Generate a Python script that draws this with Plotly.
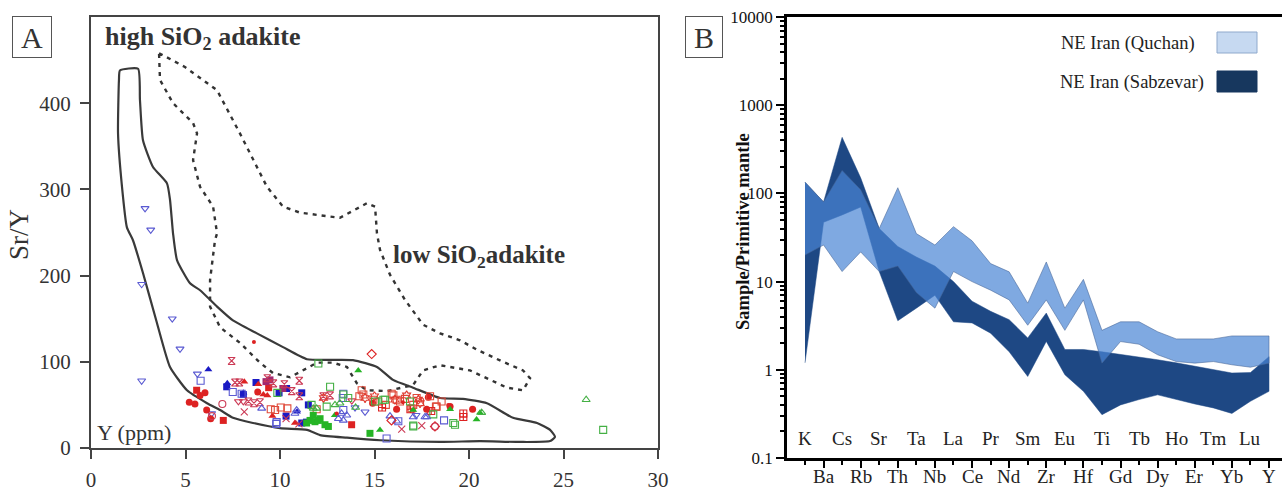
import plotly.graph_objects as go

W, H = 1282, 493
def px(x): return x / W
def py(y): return 1 - y / H

FONT = "Liberation Serif, Times New Roman, serif"

# ---------------- Panel A data (Y ppm vs Sr/Y) ----------------
adakite_x = [1.53, 2.49, 2.59, 2.75, 3.28, 4.02, 4.18, 4.34, 4.55, 5.24, 5.77, 6.67, 7.51, 8.78, 10.16,
             11.43, 13.86, 15.13, 15.98, 17.04, 18.47, 19.68, 20.95, 22.33, 23.60, 24.29, 24.55, 24.29,
             22.70, 20.58, 18.47, 15.29, 13.54, 12.12, 11.43, 10.00, 8.57, 7.51, 6.83, 6.14, 5.08, 4.18,
             3.49, 2.75, 2.22, 1.90, 1.64, 1.43, 1.48, 1.53]
adakite_y = [438, 440, 404, 357, 326, 307, 288, 249, 218, 191, 183, 164, 148, 133, 117,
             103, 102, 94, 79, 70, 58, 57, 52, 35, 29, 21, 13, 8,
             7, 8, 7, 9, 12, 15, 21, 23, 29, 35, 44, 52, 67, 94,
             145, 203, 241, 256, 303, 365, 427, 438]

highsi_x = [3.60, 4.97, 6.67, 7.88, 9.31, 10.16, 11.06, 12.65, 13.17, 14.60, 15.03, 15.13, 15.29, 15.82,
            16.61, 17.57, 18.47, 19.52, 20.42, 21.80, 22.86, 23.23, 22.86, 22.01, 21.11, 20.05, 18.47,
            17.57, 17.04, 15.66, 14.60, 14.07, 13.54, 12.80, 11.96, 11.06, 10.53, 9.63, 8.94, 7.88,
            6.83, 6.30, 6.30, 6.56, 6.67, 6.46, 5.77, 5.40, 5.61, 5.40, 4.34, 3.65, 3.60]
highsi_y = [458, 442, 415, 365, 303, 280, 273, 268, 267, 284, 280, 249, 230, 201,
            172, 143, 133, 125, 114, 100, 90, 81, 67, 70, 79, 90, 96,
            90, 73, 66, 67, 75, 94, 99, 99, 88, 82, 87, 99, 122,
            140, 164, 195, 241, 249, 280, 303, 334, 365, 377, 400, 427, 458]

blue_tri_down_x = [2.86, 3.16, 2.68, 2.68, 4.30, 4.71, 5.63, 6.38, 13.97, 14.5, 17.2]
blue_tri_down_y = [278, 253, 190, 78, 150, 115, 86, 40, 47, 42, 38]
red_circle_x = [5.20, 5.50, 5.77, 6.03, 6.12, 6.33, 8.82, 16.17, 17.76, 17.85, 20.19, 14.9, 19.0]
red_circle_y = [53, 51, 61, 64, 44, 34, 65, 45, 45, 59, 45, 52, 48]
red_square_x = [5.59, 7.00, 13.79, 9.4]
red_square_y = [67, 32, 27, 70]
blue_tri_up_x = [6.21, 7.21, 8.06, 10.9]
blue_tri_up_y = [91, 75, 64, 42]
blue_square_x = [7.18, 8.73, 9.95, 10.35, 11.15, 11.15, 11.50, 10.32, 8.06, 11.4]
blue_square_y = [71, 76, 64, 69, 64, 29, 50, 37, 62, 30]
purple_square_x = [9.26, 9.47, 10.15]
purple_square_y = [77, 79, 69]
blue_sq_open_x = [5.80, 7.50, 7.97, 9.82, 13.35, 13.32, 16.26, 15.64, 18.68, 13.35, 9.8]
blue_sq_open_y = [78, 65, 63, 30, 63, 58, 31, 11, 32, 44, 28]
red_tri_up_x = [8.11, 8.85, 9.12, 9.33, 10.79, 9.6]
red_tri_up_y = [77, 74, 62, 61, 29, 37]
red_hourglass_x = [7.44, 7.62, 7.85, 8.33, 8.62, 8.94, 9.33, 9.65, 10.23, 10.62, 11.02, 11.02, 12.29, 12.65]
red_hourglass_y = [101, 76, 76, 54, 52, 53, 81, 75, 74, 66, 78, 60, 60, 61]
red_tri_down_x = [7.80, 8.06, 13.8]
red_tri_down_y = [54, 54, 55]
red_x_x = [8.11, 10.32, 16.44, 11.0, 17.5]
red_x_y = [42, 34, 22, 28, 26]
red_sq_open_x = [9.51, 9.74, 10.04, 10.39, 14.32, 14.41, 14.20, 14.94, 15.2, 15.91, 16.35, 16.61, 17.23,
                 17.41, 17.94, 18.25, 18.55, 16.0, 16.17, 16.96, 17.05, 18.29, 11.94, 15.6]
red_sq_open_y = [45, 44, 47, 46, 67, 62, 60, 56, 54, 63, 54, 57, 58,
                 53, 60, 48, 54, 61, 56, 46, 50, 48, 45, 50]
red_sq_cross_x = [19.70, 19.70, 16.9, 18.0, 15.4]
red_sq_cross_y = [36, 40, 45, 43, 47]
red_star_x = [14.50, 16.08, 16.7, 17.32, 17.41, 15.0, 12.3]
red_star_y = [58, 56, 61, 56, 52, 60, 58]
green_sq_open_x = [12.03, 12.65, 13.35, 13.61, 15.03, 15.56, 15.47, 17.05, 17.05, 18.11, 19.17, 19.26,
                   27.1, 9.86, 16.88, 11.67, 12.47]
green_sq_open_y = [98, 71, 62, 58, 54, 56, 56, 25, 26, 39, 29, 27, 21, 64, 54, 50, 48]
green_tri_x = [14.14, 17.05, 19.0, 20.58, 20.40, 15.29, 12.9]
green_tri_y = [90, 44, 45, 41, 33, 21, 38]
green_square_x = [11.59, 11.85, 12.12, 12.38, 12.56, 14.76, 11.76, 11.41, 12.03]
green_square_y = [32, 30.5, 34, 27, 25, 17, 38, 29, 32]
green_tri_open_x = [11.76, 11.94, 12.91, 13.17, 20.67, 26.2, 14.0]
green_tri_open_y = [46, 46, 50, 52, 41, 56, 47]
blue_tri_open_x = [9.03, 10.88, 10.79, 13.09, 13.35, 13.53, 13.26, 15.82, 17.05, 17.67, 17.76, 16.17]
blue_tri_open_y = [46, 44, 40, 34, 32, 38, 40, 37, 36, 36, 36, 31]
red_diamond_x = [14.85, 18.20, 15.9]
red_diamond_y = [109, 25, 32]
red_circ_open_x = [6.95, 6.4, 18.2]
red_circ_open_y = [51, 37, 25]
red_dot_x = [8.62, 13.0, 16.5, 18.9]
red_dot_y = [123, 40, 53, 50]

x_ticks_a = [0, 5, 10, 15, 20, 25, 30]
y_ticks_a = [0, 100, 200, 300, 400]

# ---------------- Panel B data (spider diagram) ----------------
elements = ["K", "Ba", "Cs", "Rb", "Sr", "Th", "Ta", "Nb", "La", "Ce", "Pr", "Nd", "Sm", "Zr", "Eu",
            "Hf", "Ti", "Gd", "Tb", "Dy", "Ho", "Er", "Tm", "Yb", "Lu", "Y"]
quchan_upper = [134, 80, 182, 110, 40, 116, 35, 26, 42, 29, 16, 12.9, 5.7, 16.7, 5.0, 10.6, 2.8, 3.5,
                3.5, 2.7, 2.24, 2.24, 2.24, 2.42, 2.42, 2.42]
quchan_lower = [20, 26, 13, 21.7, 13, 15, 7.5, 5, 13, 10, 8, 6.2, 3.2, 6.2, 2.8, 6.2, 1.19, 2.09,
                1.95, 1.48, 1.24, 1.19, 1.24, 1.14, 1.07, 1.19]
sabzevar_upper = [134, 80, 432, 150, 40, 25, 19, 15, 10, 6, 4.6, 3.7, 2.3, 4.4, 1.7, 1.7, 1.6, 1.5,
                  1.4, 1.3, 1.2, 1.1, 1.0, 0.92, 0.93, 1.41]
sabzevar_lower = [1.2, 47, 57, 70, 13, 3.6, 5, 7, 3.5, 3.4, 2.6, 1.6, 0.84, 2.1, 0.88, 0.57, 0.31,
                  0.40, 0.46, 0.52, 0.46, 0.41, 0.37, 0.32, 0.44, 0.57]
y_ticks_b = [0.1, 1, 10, 100, 1000, 10000]
y_ticktext_b = ["0.1", "1", "10", "100", "1000", "10000"]

fig = go.Figure()

# Panel A fields
fig.add_trace(go.Scatter(x=highsi_x, y=highsi_y, mode="lines",
                         line=dict(color="#333333", width=2.4, dash="4px,5px"),
                         xaxis="x", yaxis="y", showlegend=False, hoverinfo="skip"))
fig.add_trace(go.Scatter(x=adakite_x, y=adakite_y, mode="lines",
                         line=dict(color="#3a3a3a", width=2.2, shape="spline", smoothing=0.5),
                         xaxis="x", yaxis="y", showlegend=False, hoverinfo="skip"))

RED = "#dd2222"
BLUE = "#1a1ac4"
OBLUE = "#5a5ad2"
GREEN = "#25b425"
PINK = "#cc3a55"

series = [
    (blue_tri_down_x, blue_tri_down_y, "triangle-down-open", OBLUE),
    (red_circle_x, red_circle_y, "circle", RED),
    (red_square_x, red_square_y, "square", RED),
    (blue_tri_up_x, blue_tri_up_y, "triangle-up", BLUE),
    (blue_square_x, blue_square_y, "square", BLUE),
    (purple_square_x, purple_square_y, "square", "#a02870"),
    (blue_sq_open_x, blue_sq_open_y, "square-open", OBLUE),
    (red_tri_up_x, red_tri_up_y, "triangle-up", RED),
    (red_hourglass_x, red_hourglass_y, "hourglass-open", PINK),
    (red_tri_down_x, red_tri_down_y, "triangle-down-open", PINK),
    (red_x_x, red_x_y, "x-thin-open", PINK),
    (red_sq_open_x, red_sq_open_y, "square-open", "#e04a3a"),
    (red_sq_cross_x, red_sq_cross_y, "square-cross-open", RED),
    (red_star_x, red_star_y, "hexagram-open", "#e03a30"),
    (green_sq_open_x, green_sq_open_y, "square-open", "#44b044"),
    (green_tri_x, green_tri_y, "triangle-up", GREEN),
    (green_square_x, green_square_y, "square", GREEN),
    (green_tri_open_x, green_tri_open_y, "triangle-up-open", "#44b044"),
    (blue_tri_open_x, blue_tri_open_y, "triangle-up-open", OBLUE),
    (red_diamond_x, red_diamond_y, "diamond-open", RED),
    (red_circ_open_x, red_circ_open_y, "circle-open", PINK),
]
for sx, sy, sym, col in series:
    is_open = sym.endswith("open")
    fig.add_trace(go.Scatter(
        x=sx, y=sy, mode="markers", xaxis="x", yaxis="y", showlegend=False,
        marker=dict(symbol=sym, size=7, color=col,
                    line=dict(width=1.1 if is_open else 0, color=col))))
fig.add_trace(go.Scatter(x=red_dot_x, y=red_dot_y, mode="markers", xaxis="x", yaxis="y",
                         showlegend=False, marker=dict(symbol="circle", size=4, color=RED)))

# Panel B bands
idx = list(range(len(elements)))
fig.add_trace(go.Scatter(
    x=idx + idx[::-1], y=sabzevar_upper + sabzevar_lower[::-1], mode="lines", fill="toself",
    fillcolor="rgb(30,72,132)", line=dict(color="rgb(30,72,132)", width=0.5),
    xaxis="x2", yaxis="y2", showlegend=False, hoverinfo="skip"))
fig.add_trace(go.Scatter(
    x=idx + idx[::-1], y=quchan_upper + quchan_lower[::-1], mode="lines", fill="toself",
    fillcolor="rgba(72,132,212,0.70)", line=dict(color="rgba(70,100,150,0.55)", width=1),
    xaxis="x2", yaxis="y2", showlegend=False, hoverinfo="skip"))

tickfont_a = dict(family=FONT, size=21, color="#333333")
tickfont_b = dict(family=FONT, size=17, color="#111111")

minor_log = [k * 10 ** d for d in range(-1, 4) for k in range(2, 10)]

fig.update_layout(
    width=W, height=H, margin=dict(l=0, r=0, t=0, b=0, autoexpand=False),
    paper_bgcolor="white", plot_bgcolor="white", showlegend=False,
    font=dict(family=FONT),
    xaxis=dict(domain=[px(91), px(658)], range=[0, 30], tickvals=x_ticks_a, ticks="outside",
               ticklen=9, tickwidth=1.5, tickcolor="#444", showline=True, linecolor="#444",
               linewidth=2, mirror=True, showgrid=False, zeroline=False, tickfont=tickfont_a,
               anchor="y", ticklabelstandoff=3, automargin=False),
    yaxis=dict(domain=[py(448), py(17)], range=[0, 500], tickvals=y_ticks_a, ticks="outside",
               ticklen=9, tickwidth=1.5, tickcolor="#444", showline=True, linecolor="#444",
               linewidth=2, mirror=True, showgrid=False, zeroline=False, tickfont=tickfont_a,
               anchor="x", ticklabelstandoff=5, automargin=False),
    xaxis2=dict(domain=[px(787), 1.0], range=[-0.97, 25.7],
                tickvals=[i for i in idx if i % 2 == 1], ticks="outside", ticklen=7, tickwidth=2,
                tickcolor="black", showticklabels=False,
                minor=dict(tickvals=[i for i in idx if i % 2 == 0], ticks="outside", ticklen=4,
                           tickwidth=1.5, tickcolor="black", showgrid=False),
                showline=True, linecolor="black", linewidth=2.5, mirror=True, showgrid=False,
                zeroline=False, anchor="y2", automargin=False),
    yaxis2=dict(type="log", domain=[py(458), py(17)], range=[-1, 4], tickvals=y_ticks_b,
                ticktext=y_ticktext_b, ticks="outside", ticklen=8, tickwidth=2, tickcolor="black",
                minor=dict(tickvals=minor_log, ticks="outside", ticklen=4, tickwidth=1.5,
                           tickcolor="black", showgrid=False),
                showline=True, linecolor="black", linewidth=2.5, mirror=False, showgrid=False,
                zeroline=False, tickfont=tickfont_b, anchor="x2", automargin=False),
)

def note(text, x, y, size, color="#333", xref="paper", **kw):
    d = dict(text=text, x=x, y=y, xref=xref, yref="paper", showarrow=False,
             xanchor=kw.pop("xanchor", "center"), yanchor="middle",
             font=dict(family=FONT, size=size, color=color))
    d.update(kw)
    return d

ann = []
# Panel labels
ann.append(note("A", px(32), py(37), 30, bordercolor="#555", borderwidth=1,
                width=38, height=40, borderpad=0, bgcolor="white"))
ann.append(note("B", px(704), py(37), 30, bordercolor="#555", borderwidth=1,
                width=36, height=40, borderpad=0, bgcolor="white"))
ann.append(note("<b>high SiO<sub>2</sub> adakite</b>", px(203), py(38), 26))
ann.append(note("<b>low SiO<sub>2</sub>adakite</b>", px(479), py(256), 25))
ann.append(note("Y (ppm)", px(134), py(432), 22))
ann.append(note("Sr/Y", px(19), py(235), 27, textangle=-90))
ann.append(note("<b>Sample/Primitive mantle</b>", px(743), py(232), 18.5, color="#111", textangle=-90))
# Element labels
for i, el in enumerate(elements):
    ann.append(note(el, i, py(438) if i % 2 == 0 else py(476), 19, color="#222", xref="x2"))
# Legend
ann.append(note("NE Iran (Quchan)", px(1059), py(44), 18.5, color="#222", xanchor="left"))
ann.append(note("NE Iran (Sabzevar)", px(1058), py(82), 18.5, color="#222", xanchor="left"))
fig.update_layout(annotations=ann)

fig.add_shape(type="rect", xref="paper", yref="paper", x0=px(1217), x1=px(1257), y0=py(53), y1=py(32),
              fillcolor="#c6d9f1", line=dict(color="#8fa9cc", width=1))
fig.add_shape(type="rect", xref="paper", yref="paper", x0=px(1217), x1=px(1257), y0=py(92), y1=py(71),
              fillcolor="#17375e", line=dict(color="#17375e", width=1))

fig.write_html("out.html")
